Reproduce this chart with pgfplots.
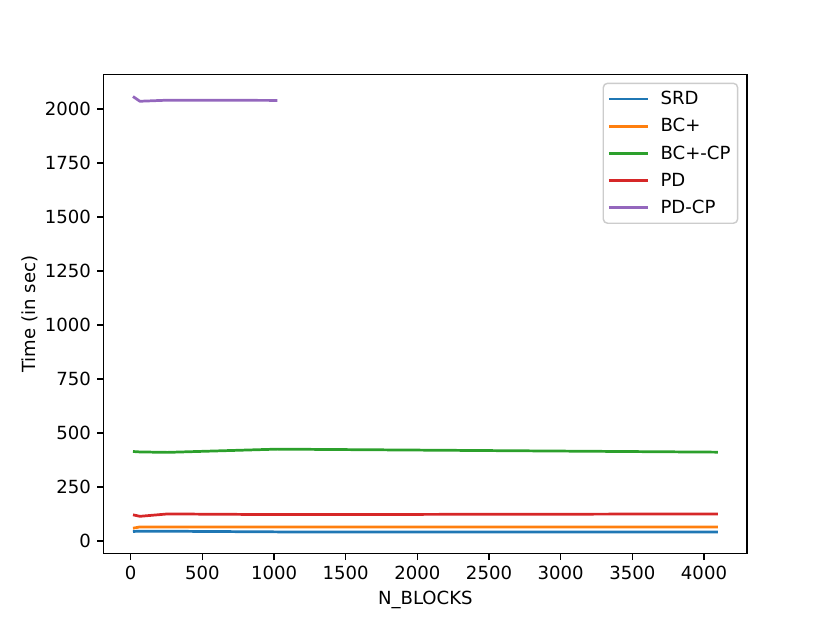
\documentclass[border=0pt]{standalone}
\usepackage{fontspec}
\setmainfont{DejaVu Sans}
\usepackage{pgfplots}
\pgfplotsset{compat=1.18}

\definecolor{c0}{HTML}{1F77B4}
\definecolor{c1}{HTML}{FF7F0E}
\definecolor{c2}{HTML}{2CA02C}
\definecolor{c3}{HTML}{D62728}
\definecolor{c4}{HTML}{9467BD}

\begin{document}
\begin{tikzpicture}
\begin{axis}[
    name=ax,
    scale only axis,
    width=6.2in, height=4.617in,
    xmin=-188, xmax=4300,
    ymin=-58, ymax=2159,
    xtick={0,500,...,4000},
    ytick={0,250,...,2000},
    tick align=outside,
    tick pos=left,
    major tick length=4.4pt,
    tick style={black, line width=1pt},
    axis line style={line width=1pt},
    font=\fontsize{12.6}{15}\selectfont,
    tick label style={font=\fontsize{12.6}{15}\selectfont},
    label style={font=\fontsize{12.6}{15}\selectfont},
    xticklabel style={yshift=-1pt},
    yticklabel style={xshift=-1pt},
    /pgf/number format/assume math mode=true,
    /pgf/number format/1000 sep={},
    xlabel={N\_BLOCKS},
    ylabel={Time (in sec)},
    xlabel style={yshift=-1pt},
    ylabel style={yshift=-2pt},
    every axis plot/.append style={line width=1.9pt, line join=round},
    legend cell align=left,
    legend style={at={(1,1)}, xshift=-6pt, yshift=-5.5pt, anchor=north east,
        draw=black!20, line width=1pt, rounded corners=3pt, fill=white,
        font=\fontsize{12.6}{15}\selectfont,
        row sep=4.1pt, column sep=6pt, inner xsep=3pt, inner ysep=3.5pt,
        nodes={inner sep=2pt}},
    legend image code/.code={\draw[#1] (0pt,0pt) -- (27pt,0pt);},
]
\addplot[c0] coordinates {(16,45) (64,46) (256,46) (1024,43) (4096,43)};
\addlegendentry{SRD}
\addplot[c1] coordinates {(16,60) (64,66) (256,66) (1024,66) (4096,66)};
\addlegendentry{BC+}
\addplot[c2] coordinates {(16,415) (64,413) (256,411) (1024,426) (4096,412)};
\addlegendentry{BC+-CP}
\addplot[c3] coordinates {(16,122) (64,115) (256,126) (1024,123) (4096,126)};
\addlegendentry{PD}
\addplot[c4] coordinates {(16,2058) (64,2036) (256,2041) (1024,2040)};
\addlegendentry{PD-CP}
\end{axis}
\useasboundingbox ([xshift=-1.0in, yshift=-0.665in]ax.south west) rectangle ([xshift=0.8in, yshift=0.72in]ax.north east);
\end{tikzpicture}
\end{document}
